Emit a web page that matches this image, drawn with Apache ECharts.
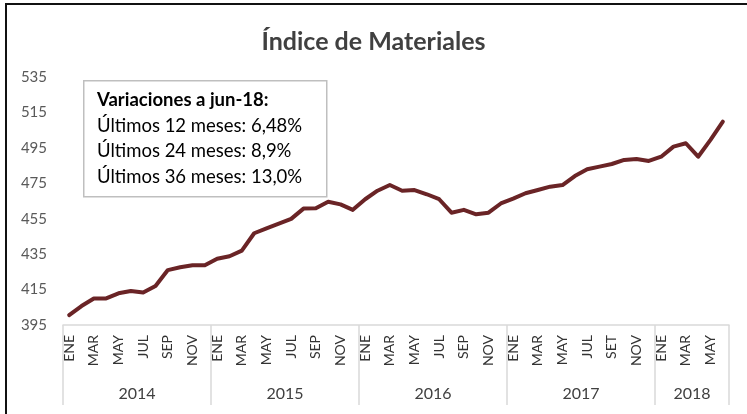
<!DOCTYPE html>
<html>
<head>
<meta charset="utf-8">
<script src="https://cdn.jsdelivr.net/npm/echarts@6/dist/echarts.min.js"></script>
<style>
  html, body { margin: 0; padding: 0; background: #fff; }
  #chart { width: 747px; height: 414px; }
  #frame {
    position: absolute; left: 5px; top: 3px; width: 760px; height: 430px;
    border-top: 2px solid #111; border-left: 2px solid #111;
    pointer-events: none;
  }
</style>
</head>
<body>
<div id="chart"></div>
<div id="frame"></div>
<script>
// meses (eje inferior)
const months = [
  'ENE','FEB','MAR','ABR','MAY','JUN','JUL','AGO','SEP','OCT','NOV','DIC',
  'ENE','FEB','MAR','ABR','MAY','JUN','JUL','AGO','SEP','OCT','NOV','DIC',
  'ENE','FEB','MAR','ABR','MAY','JUN','JUL','AGO','SEP','OCT','NOV','DIC',
  'ENE','FEB','MAR','ABR','MAY','JUN','JUL','AGO','SET','OCT','NOV','DIC',
  'ENE','FEB','MAR','ABR','MAY','JUN'
];
const years = ['2014', '2015', '2016', '2017', '2018'];
const monthsPerYear = [12, 12, 12, 12, 6];

// índice mensual
const indice = [
  400.6, 405.7, 410.0, 410.0, 412.9, 414.2, 413.3, 417.0, 426.0, 427.6, 428.7, 428.7,
  432.4, 433.8, 437.0, 446.8, 449.6, 452.2, 454.9, 460.7, 460.9, 464.6, 463.1, 460.0,
  466.0, 470.8, 474.0, 470.8, 471.2, 468.8, 466.0, 458.4, 460.0, 457.5, 458.4, 463.6,
  466.3, 469.4, 471.2, 473.1, 474.0, 479.1, 482.9, 484.4, 485.9, 488.2, 488.7, 487.6,
  490.0, 495.7, 497.6, 490.0, 499.5, 509.8
];

const notaTitulo = 'Variaciones a jun-18:';
const notaLineas = ['Últimos 12 meses: 6,48%', 'Últimos 24 meses: 8,9%', 'Últimos 36 meses: 13,0%'];

// limites y centros de cada año
const yearBounds = [0];
const yearCenters = [];
monthsPerYear.forEach((n, i) => {
  yearCenters.push(yearBounds[i] + n / 2);
  yearBounds.push(yearBounds[i] + n);
});

const font = 'Lato, "Noto Sans", sans-serif';
const chart = echarts.init(document.getElementById('chart'));

const option = {
  backgroundColor: '#fff',
  animation: false,
  title: {
    text: 'Índice de Materiales',
    left: 'center',
    top: 24,
    textStyle: { fontFamily: font, fontSize: 25, fontWeight: 'bold', color: '#404040' }
  },
  grid: { left: 63, right: 18, top: 77, bottom: 89 },
  xAxis: [
    {
      type: 'category',
      data: months,
      boundaryGap: true,
      axisLine: { lineStyle: { color: '#d9d9d9', width: 1.5 } },
      axisTick: { show: false },
      axisLabel: {
        interval: 1,
        rotate: 90,
        margin: 10,
        color: '#333',
        fontFamily: font,
        fontSize: 14
      }
    },
    {
      type: 'value',
      min: 0,
      max: yearBounds[yearBounds.length - 1],
      position: 'bottom',
      axisLine: { show: false },
      splitLine: { show: false },
      axisTick: {
        show: true,
        length: 80,
        customValues: yearBounds,
        lineStyle: { color: '#d9d9d9', width: 1.5 }
      },
      axisLabel: {
        customValues: yearCenters,
        margin: 61,
        color: '#404040',
        fontFamily: font,
        fontSize: 16,
        formatter: v => years[yearCenters.indexOf(v)] || ''
      }
    }
  ],
  yAxis: {
    type: 'value',
    min: 395,
    max: 535,
    interval: 20,
    axisLine: { show: false },
    axisTick: { show: false },
    splitLine: { show: false },
    axisLabel: { margin: 16, color: '#595959', fontFamily: font, fontSize: 15 }
  },
  graphic: [
    {
      type: 'rect',
      left: 83,
      top: 80,
      shape: { width: 243, height: 116 },
      style: { fill: '#fff', stroke: '#bfbfbf', lineWidth: 1.5 }
    },
    {
      type: 'text',
      left: 97,
      top: 91,
      style: {
        text: '{b|' + notaTitulo + '}\n' + notaLineas.map(l => '{n|' + l + '}').join('\n'),
        rich: {
          b: { fontFamily: font, fontSize: 18.5, fontWeight: 'bold', color: '#000', lineHeight: 25.5 },
          n: { fontFamily: font, fontSize: 18.5, color: '#000', lineHeight: 25.5 }
        }
      }
    }
  ],
  series: [{
    type: 'line',
    xAxisIndex: 0,
    data: indice,
    symbol: 'none',
    lineStyle: { color: '#6a2426', width: 4, join: 'round', cap: 'round' }
  }]
};

chart.setOption(option);
</script>
</body>
</html>
